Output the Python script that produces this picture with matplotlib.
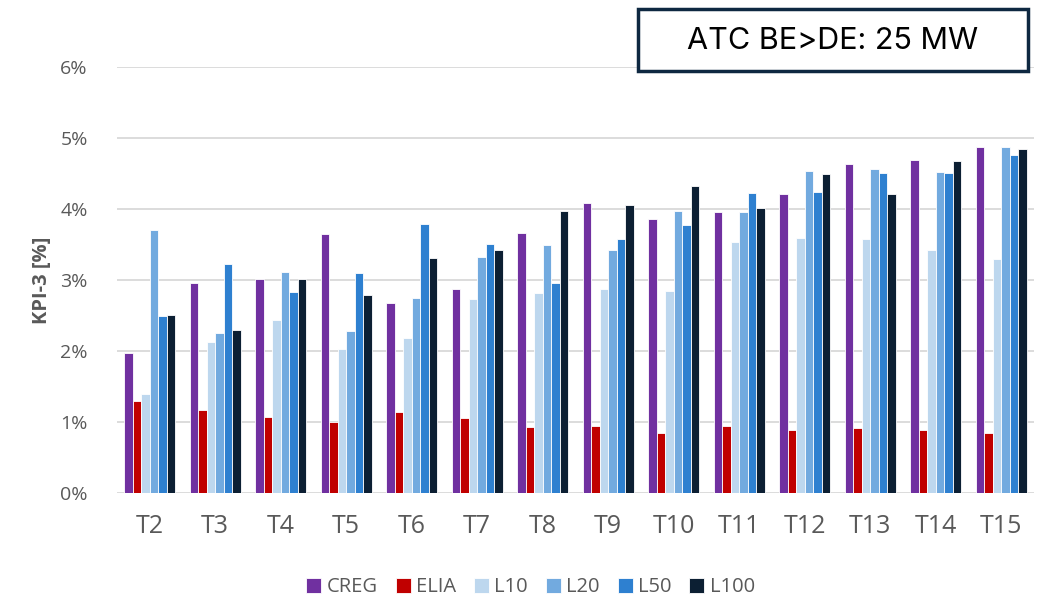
import numpy as np
import matplotlib.pyplot as plt
from matplotlib.patches import FancyBboxPatch

plt.rcParams['font.family'] = ['Open Sans', 'DejaVu Sans']

# KPI-3 per test case and model (%)
cases = ['T2', 'T3', 'T4', 'T5', 'T6', 'T7', 'T8', 'T9', 'T10', 'T11', 'T12', 'T13', 'T14', 'T15']
creg = [1.97, 2.96, 3.02, 3.65, 2.68, 2.88, 3.66, 4.09, 3.86, 3.96, 4.21, 4.64, 4.69, 4.87]
elia = [1.29, 1.17, 1.07, 1.00, 1.14, 1.06, 0.93, 0.94, 0.84, 0.95, 0.89, 0.91, 0.89, 0.84]
l10 = [1.40, 2.13, 2.44, 2.03, 2.19, 2.73, 2.82, 2.87, 2.84, 3.54, 3.60, 3.58, 3.43, 3.30]
l20 = [3.70, 2.26, 3.12, 2.28, 2.75, 3.32, 3.49, 3.42, 3.98, 3.96, 4.54, 4.57, 4.52, 4.87]
l50 = [2.49, 3.23, 2.83, 3.10, 3.79, 3.51, 2.96, 3.58, 3.78, 4.23, 4.24, 4.51, 4.51, 4.76]
l100 = [2.51, 2.29, 3.01, 2.79, 3.31, 3.42, 3.98, 4.06, 4.33, 4.01, 4.49, 4.22, 4.68, 4.85]

series = {'CREG': creg, 'ELIA': elia, 'L10': l10, 'L20': l20, 'L50': l50, 'L100': l100}
colors = ['#7030A0', '#C00000', '#BDD7EE', '#72AADF', '#2E80D0', '#0C1F33']

fig = plt.figure(figsize=(10.38, 6.06), dpi=100)
ax = fig.add_axes([0.1127, 0.1865, 0.8834, 0.7025])

x = np.arange(len(cases))
group_w = 0.78
bw = group_w / len(series)
for i, ((name, vals), c) in enumerate(zip(series.items(), colors)):
    offs = -group_w / 2 + bw * (i + 0.5)
    ax.bar(x + offs, vals, width=bw, color=c, edgecolor='white', linewidth=0.6,
           label=name, zorder=3)

ax.set_xlim(-0.5, len(cases) - 0.5)
ax.set_ylim(0, 6)
ax.set_yticks(range(0, 7))
ax.set_yticklabels([f'{v}%' for v in range(0, 7)])
ax.set_xticks(x)
ax.set_xticklabels(cases)

ax.grid(axis='y', color='#D9D9D9', linewidth=1.3, zorder=0)
for s in ax.spines.values():
    s.set_visible(False)
ax.tick_params(axis='both', length=0, colors='#595959')
ax.tick_params(axis='y', labelsize=14, pad=21)
ax.tick_params(axis='x', labelsize=18, pad=15)
ax.set_ylabel('KPI-3 [%]', fontsize=14.5, fontweight='bold', color='#595959', labelpad=6)

fig.legend(loc='center', bbox_to_anchor=(0.511, 0.031), ncol=6, frameon=False,
           fontsize=14.5, labelcolor='#595959', handlelength=0.75, handleheight=0.75,
           handletextpad=0.25, columnspacing=0.9)

# Annotation box in the top right corner
box = FancyBboxPatch((638 / 1038, 1 - 71 / 606), 390 / 1038, 62 / 606,
                     boxstyle='square,pad=0', transform=fig.transFigure,
                     facecolor='white', edgecolor='#0E2841', linewidth=2.5, zorder=5)
fig.patches.append(box)
fig.text((638 + 195) / 1038, 1 - 41 / 606, 'ATC BE>DE: 25 MW', ha='center', va='center',
         fontsize=22, color='black', family=['Inter', 'DejaVu Sans'], zorder=6)

fig.savefig('out.png', dpi=100)
